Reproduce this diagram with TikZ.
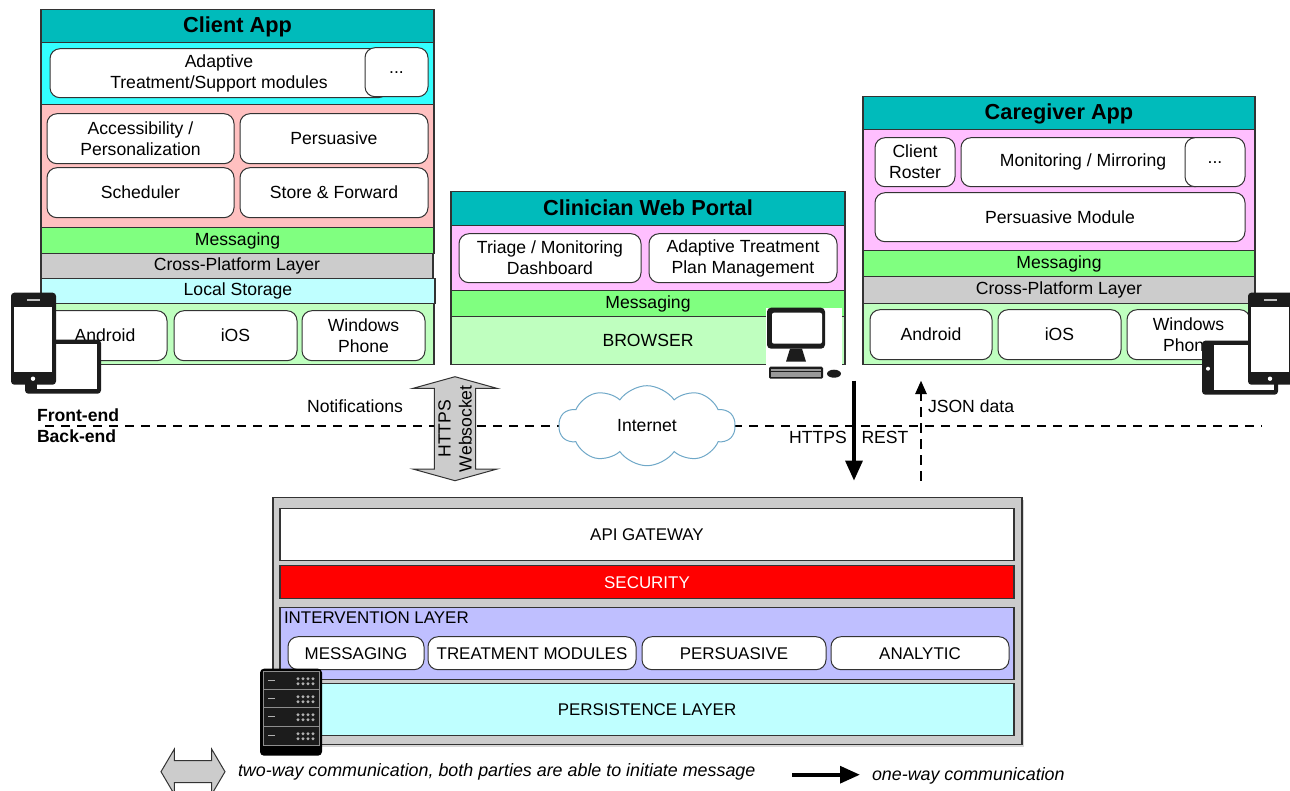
\documentclass[tikz,border=0pt]{standalone}
\usepackage{fontspec}
\setmainfont{Liberation Sans}
\usetikzlibrary{arrows.meta,shapes.symbols,shapes.arrows,shadows}
\definecolor{titleteal}{HTML}{00BBBB}
\definecolor{bandcyan}{HTML}{33FFFF}
\definecolor{bandrose}{HTML}{FFC0C0}
\definecolor{bandpink}{HTML}{FFBFFF}
\definecolor{bandgreen}{HTML}{80FF80}
\definecolor{bandgray}{HTML}{CCCCCC}
\definecolor{bandaqua}{HTML}{BFFFFF}
\definecolor{bandmint}{HTML}{BFFFBF}
\definecolor{bandblue}{HTML}{BFBFFF}
\definecolor{cloudblue}{HTML}{6FA8C8}
\definecolor{iconblack}{HTML}{1C1C1C}
\begin{document}
\begin{tikzpicture}[
                    x=0.75pt, y=-0.75pt,
                    every node/.style={font=\fontsize{13.2}{15.75}\selectfont, align=center, inner sep=0pt, outer sep=0pt},
                    size/.style 2 args={minimum width=#1*0.75pt, minimum height=#2*0.75pt, anchor=north west},
                    layer/.style={draw=black!80, line width=0.85pt},
                    title/.style={layer, fill=titleteal, font=\fontsize{16.3}{18}\selectfont\bfseries, text height=11.7pt, text depth=2pt},
                    module/.style={draw=black!80, line width=0.75pt, fill=white, rounded corners=7.5pt},
                    server/.style={font=\fontsize{12.7}{15}\selectfont},
                    caption/.style={font=\fontsize{13.4}{16}\selectfont\itshape, anchor=west},
                    twoway/.style={draw=black!80, line width=0.75pt, fill=bandgray, double arrow, double arrow head indent=0pt},
                    oneway/.style={-{Stealth[inset=0pt, length=15pt, width=12.5pt]}, line width=3pt},
                    dashedline/.style={line width=1.4pt, dash pattern=on 7pt off 5pt},
                    phone icon/.pic={
                        \fill[iconblack, rounded corners=2.5pt] (0,0) rectangle (45,92);
                        \fill[white] (3,14) rectangle (41,79);
                        \fill[white!75!black] (16,6) rectangle (29,8);
                        \fill[white] (22,86) circle (2.2);
                    },
                    tablet icon/.pic={
                        \fill[iconblack, rounded corners=2.5pt] (0,0) rectangle (76,54);
                        \fill[white] (12,4) rectangle (72,49);
                        \fill[white] (6,28) circle (2);
                    }
            ]
    \useasboundingbox (0,-0.7) rectangle (1290,789.3);

    % client app
    \node [layer, fill=bandcyan, size={393}{62}] (clientBand) at (41,42) {};
    \node [layer, fill=bandrose, size={393}{123}] (clientModules) at (41,104) {};
    \node [title, size={393}{33}] (clientTitle) at (41,9) {Client App};
    \node [module, size={338}{49}] (adaptive) at (50,48) {Adaptive\\Treatment/Support modules};
    \node [module, size={63}{49}] (clientMore) at (365,47) {...};
    \node [module, size={187}{50}] (access) at (47,113) {Accessibility /\\Personalization};
    \node [module, size={188}{50}] (clientPersuasive) at (240,113) {Persuasive};
    \node [module, size={187}{50}] (scheduler) at (47,167) {Scheduler};
    \node [module, size={188}{50}] (store) at (240,167) {Store \& Forward};
    \node [layer, fill=bandgreen, size={393}{26}] (clientMessaging) at (41,227) {Messaging};
    \node [layer, fill=bandgray, size={392}{25}] (clientCross) at (41,253) {Cross-Platform Layer};
    \node [layer, fill=bandaqua, size={394}{25}] (localStorage) at (41,278) {Local Storage};
    \node [layer, fill=bandmint, size={393}{61}] (clientOs) at (41,303) {};
    \node [module, size={124}{50}] (clientAndroid) at (43,310) {Android};
    \node [module, size={123}{50}] (clientIos) at (174,310) {iOS};
    \node [module, size={123}{50}] (clientWindows) at (302,310) {Windows\\Phone};

    % clinician portal
    \node [title, size={394}{34}] (portalTitle) at (451,191) {Clinician Web Portal};
    \node [layer, fill=bandpink, size={394}{65}] (portalModules) at (451,225) {};
    \node [module, size={182}{49}] (triage) at (459,233) {Triage / Monitoring\\Dashboard};
    \node [module, size={188}{49}] (treatmentPlan) at (649,233) {Adaptive Treatment\\Plan Management};
    \node [layer, fill=bandgreen, size={394}{26}] (portalMessaging) at (451,290) {Messaging};
    \node [layer, fill=bandmint, size={394}{48}] (browser) at (451,316) {BROWSER};

    % caregiver app
    \node [title, size={392}{33}] (careTitle) at (863,96) {Caregiver App};
    \node [layer, fill=bandpink, size={392}{121}] (careModules) at (863,129) {};
    \node [module, size={80}{49}] (roster) at (875,137) {Client\\Roster};
    \node [module, size={244}{49}] (mirroring) at (961,137) {Monitoring / Mirroring};
    \node [module, size={60}{49}] (careMore) at (1185,137) {...};
    \node [module, size={370}{49}] (careModule) at (875,192) {Persuasive Module};
    \node [layer, fill=bandgreen, size={392}{26}] (careMessaging) at (863,250) {Messaging};
    \node [layer, fill=bandgray, size={392}{27}] (careCross) at (863,276) {Cross-Platform Layer};
    \node [layer, fill=bandmint, size={392}{61}] (careOs) at (863,303) {};
    \node [module, size={122}{50}] (careAndroid) at (870,309) {Android};
    \node [module, size={123}{50}] (careIos) at (998,309) {iOS};
    \node [module, size={123}{50}] (careWindows) at (1127,309) {Windows\\Phone};

    % front-end / back-end line
    \coordinate (lineStart) at (45,425);
    \coordinate (lineEnd) at (1262,425);
    \draw [dashedline] (lineStart) -- (lineEnd);
    \node [font=\fontsize{13.2}{16.5}\selectfont\bfseries, align=left, anchor=west] (frontBack) at (37,425) {Front-end\\Back-end};
    \node (notifications) at (355,406) {Notifications};
    \node [cloud, cloud puffs=10, cloud puff arc=110, aspect=2.2, draw=cloudblue, line width=0.75pt, fill=white, minimum width=176*0.75pt, minimum height=80*0.75pt] (internet) at (647,425) {Internet};
    \node [twoway, rotate=90, minimum height=104*0.75pt, double arrow tip angle=149, double arrow head extend=21.5*0.75pt, inner ysep=2.6pt] (websocket) at (455,428) {HTTPS\\Websocket};

    % back-end
    \node [layer, fill=bandgray, drop shadow={shadow xshift=1.5pt, shadow yshift=-1.5pt, fill=black!30}, size={749}{247}] (backend) at (273,497) {};
    \node [layer, server, fill=white, size={734}{52}] (gateway) at (280,508) {API GATEWAY};
    \node [layer, server, fill=red, text=white, size={734}{33}] (security) at (280,565) {SECURITY};
    \node [layer, fill=bandblue, size={734}{72}] (intervention) at (280,607) {};
    \node [server, anchor=west] (interventionLabel) at (284,617) {INTERVENTION LAYER};
    \node [module, server, size={136}{33}] (messaging) at (288,636) {MESSAGING};
    \node [module, server, size={208}{33}] (treatment) at (428,636) {TREATMENT MODULES};
    \node [module, server, size={184}{33}] (persuasive) at (642,636) {PERSUASIVE};
    \node [module, server, size={178}{33}] (analytic) at (831,636) {ANALYTIC};
    \node [layer, server, fill=bandaqua, size={734}{52}] (persistence) at (280,683) {PERSISTENCE LAYER};

    % rest arrows
    \coordinate (restTop) at (854,380);
    \coordinate (restBottom) at (854,480);
    \coordinate (jsonBottom) at (921,480);
    \coordinate (jsonTop) at (921,380);
    \draw [oneway] (restTop) -- (restBottom);
    \draw [dashedline, -{Stealth[inset=0pt, length=10pt, width=8.5pt]}] (jsonBottom) -- (jsonTop);
    \node (https) at (818,437) {HTTPS};
    \node (rest) at (885,437) {REST};
    \node [anchor=west] (json) at (928,406) {JSON data};

    % icons
    \pic at (25,339) {tablet icon};
    \pic at (11,292) {phone icon};
    \pic at (1202,340) {tablet icon};
    \pic at (1248,292) {phone icon};

    \fill [white] (766,307) rectangle (842,380);
    \fill [iconblack, rounded corners=3pt] (767,307) rectangle (825,348);
    \fill [white, rounded corners=1.5pt] (772,312) rectangle (822,343);
    \fill [iconblack] (790,348) -- (802,348) -- (806,361) -- (786,361) -- cycle;
    \fill [iconblack, rounded corners=1pt] (769,366) rectangle (823,378);
    \fill [white!60!black] (771,368) rectangle (821,376);
    \draw [iconblack] (771,371) -- (821,371);
    \fill [iconblack] (834,373) ellipse (7 and 4);

    \fill [black, rounded corners=3pt] (260,668) rectangle (322,755);
    \foreach \top in {671,689,707,726} {
        \draw [iconblack!50!white, line width=0.75pt, fill=iconblack] (263,\top) rectangle (319,\top+18.5);
        \fill [white!70!black] (268,\top+8) rectangle (275,\top+9.5);
        \foreach \led in {298,303,308,313} {
            \fill [white!70!black] (\led,\top+7) circle (1.6);
            \fill [white!70!black] (\led,\top+12) circle (1.6);
        }
    }

    % legend
    \node [twoway, minimum height=64*0.75pt, double arrow tip angle=119, double arrow head extend=11.5*0.75pt, inner ysep=10.5*0.75pt] (twoWayKey) at (193,771) {};
    \node [caption] (twoWayText) at (238,771) {two-way communication, both parties are able to initiate message};
    \coordinate (oneWayStart) at (792,774);
    \coordinate (oneWayEnd) at (860,774);
    \draw [oneway] (oneWayStart) -- (oneWayEnd);
    \node [caption] (oneWayText) at (872,775.5) {one-way communication};
\end{tikzpicture}
\end{document}
